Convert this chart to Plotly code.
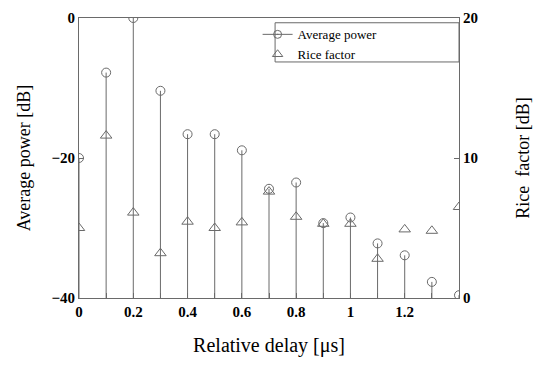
import plotly.graph_objects as go

delay_us = [0.0, 0.1, 0.2, 0.3, 0.4, 0.5, 0.6, 0.7, 0.8, 0.9, 1.0, 1.1, 1.2, 1.3, 1.4]
avg_power_db = [-20.0, -7.8, 0.0, -10.4, -16.6, -16.6, -18.9, -24.4, -23.5, -29.3, -28.5, -32.2, -33.9, -37.7, -39.6]
rice_factor_db = [5.0, 11.6, 6.1, 3.2, 5.45, 5.0, 5.4, 7.6, 5.8, 5.3, 5.3, 2.8, 4.9, 4.8, 6.5]
x_tick_vals = [0, 0.2, 0.4, 0.6, 0.8, 1.0, 1.2]
x_tick_text = ["0", "0.2", "0.4", "0.6", "0.8", "1", "1.2"]
y1_ticks = [-40, -20, 0]
y2_ticks = [0, 10, 20]

Y_BOTTOM = -40
GRAY = "#6a6a6a"
FONT = "Liberation Serif"

stem_x, stem_y = [], []
for xv, yv in zip(delay_us, avg_power_db):
    stem_x += [xv, xv, None]
    stem_y += [Y_BOTTOM, yv, None]

fig = go.Figure()
fig.add_trace(go.Scatter(x=stem_x, y=stem_y, mode="lines",
                         line=dict(color=GRAY, width=1), showlegend=False, hoverinfo="skip"))
fig.add_trace(go.Scatter(x=delay_us, y=avg_power_db, mode="markers",
                         marker=dict(symbol="circle-open", size=9, color=GRAY, line=dict(width=1)),
                         showlegend=False))
fig.add_trace(go.Scatter(x=delay_us, y=rice_factor_db, mode="markers", yaxis="y2",
                         marker=dict(symbol="triangle-up-open", size=10, color=GRAY, line=dict(width=1)),
                         showlegend=False))
# legend entries
fig.add_trace(go.Scatter(x=[None], y=[None], mode="lines+markers", name="Average power",
                         line=dict(color=GRAY, width=1),
                         marker=dict(symbol="circle-open-dot", size=8, color=GRAY, line=dict(width=1))))
fig.add_trace(go.Scatter(x=[None], y=[None], mode="markers", name="Rice factor",
                         marker=dict(symbol="triangle-up-open", size=9, color=GRAY, line=dict(width=1))))

fig.update_layout(
    width=533, height=365,
    margin=dict(l=79, r=74, t=18, b=67, autoexpand=False),
    plot_bgcolor="white", paper_bgcolor="white",
    font=dict(family=FONT, color="black"),
    xaxis=dict(range=[0, 1.4], tickmode="array", tickvals=x_tick_vals, ticktext=x_tick_text,
               showgrid=False, zeroline=False, showline=True, linecolor=GRAY, linewidth=1,
               mirror=True, ticks="inside", ticklen=5, tickcolor=GRAY, automargin=False,
               minor=dict(dtick=0.1, ticks="inside", ticklen=5, tickcolor=GRAY),
               tickfont=dict(family=FONT, size=15, weight="bold"),
               title=dict(text="Relative delay [μs]", font=dict(family=FONT, size=20), standoff=18)),
    yaxis=dict(range=[-40, 0], tickmode="array", tickvals=y1_ticks,
               showgrid=False, zeroline=False, showline=True, linecolor=GRAY, linewidth=1,
               ticks="inside", ticklen=5, tickcolor=GRAY, ticklabelstandoff=0, automargin=False,
               tickfont=dict(family=FONT, size=15, weight="bold"),
               title=dict(text="Average power [dB]", font=dict(family=FONT, size=18), standoff=16)),
    yaxis2=dict(range=[0, 20], tickmode="array", tickvals=y2_ticks, overlaying="y", side="right",
                showgrid=False, zeroline=False, showline=True, linecolor=GRAY, linewidth=1,
                ticks="inside", ticklen=5, tickcolor=GRAY, automargin=False,
                tickfont=dict(family=FONT, size=15, weight="bold"),
                title=dict(text="Rice\u00a0 factor [dB]", font=dict(family=FONT, size=18), standoff=42)),
    legend=dict(x=0.47, y=0.995, xanchor="left", yanchor="top",
                borderwidth=0, bgcolor="rgba(0,0,0,0)",
                font=dict(family=FONT, size=13), tracegroupgap=0, itemwidth=30),
    shapes=[dict(type="rect", xref="paper", yref="paper", x0=0.516, x1=1.0, y0=0.843, y1=0.983,
                 line=dict(color=GRAY, width=1), fillcolor="white", layer="below")],
    showlegend=True,
)

fig.write_html("out.html")
